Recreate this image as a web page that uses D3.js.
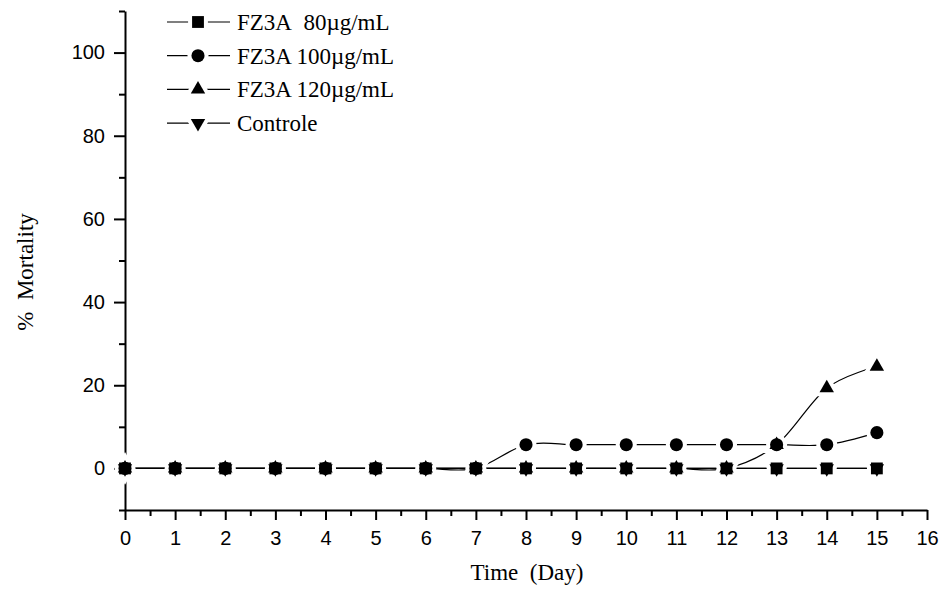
<!DOCTYPE html>
<html>
<head>
<meta charset="utf-8">
<script src="https://cdn.jsdelivr.net/npm/d3@7"></script>
<style>
	body { margin: 0; background: #fff; }
	svg { display: block; }
</style>
</head>
<body>
<svg id="plot" width="946" height="593"></svg>
<script>
// days 0..15
const DAYS = [0, 1, 2, 3, 4, 5, 6, 7, 8, 9, 10, 11, 12, 13, 14, 15];
const SERIES_NAMES = ['FZ3A\u00a0 80\u00b5g/mL', 'FZ3A 100\u00b5g/mL', 'FZ3A 120\u00b5g/mL', 'Controle'];
const FZ3A_80 = [0, 0, 0, 0, 0, 0, 0, 0, 0, 0, 0, 0, 0, 0, 0, 0];
const FZ3A_100 = [0, 0, 0, 0, 0, 0, 0, 0, 5.7, 5.7, 5.7, 5.7, 5.7, 5.7, 5.7, 8.6];
const FZ3A_120 = [0, 0, 0, 0, 0, 0, 0, 0, 0, 0, 0, 0, 0, 5.7, 19.3, 24.5];
const CONTROLE = [0, 0, 0, 0, 0, 0, 0, 0, 0, 0, 0, 0, 0, 0, 0, 0];
const X_TICKS = [0, 1, 2, 3, 4, 5, 6, 7, 8, 9, 10, 11, 12, 13, 14, 15, 16];
const Y_TICKS = [0, 20, 40, 60, 80, 100];

const SERIF = '"Liberation Serif", "Times New Roman", Times, serif';
const SANS = '"Liberation Sans", Arial, Helvetica, sans-serif';

const svg = d3.select('#plot');
const x = d3.scaleLinear().domain([0, 16]).range([125, 927]);
const y = d3.scaleLinear().domain([-10, 110]).range([510, 11]);

const allSeries = [FZ3A_80, FZ3A_100, FZ3A_120, CONTROLE];
const symbols = [
	d3.symbol().type(d3.symbolSquare).size(140),
	d3.symbol().type(d3.symbolCircle).size(135),
	d3.symbol().type(d3.symbolTriangle).size(90),
	d3.symbol().type(d3.symbolTriangle).size(90)
];
const rot = [0, 0, 0, 180];

// axes
svg.append('g')
	.attr('transform', 'translate(0,510)')
	.call(d3.axisBottom(x).tickValues(X_TICKS).tickFormat(d3.format('d')).tickSize(10).tickPadding(11).tickSizeOuter(0));
svg.append('g')
	.attr('transform', 'translate(0,510)')
	.call(d3.axisBottom(x).tickValues(d3.range(0.5, 16, 1)).tickFormat('').tickSize(6).tickSizeOuter(0))
	.select('.domain').remove();

svg.append('g')
	.attr('transform', 'translate(125,0)')
	.call(d3.axisLeft(y).tickValues(Y_TICKS).tickSize(11).tickPadding(9).tickSizeOuter(0));
svg.append('g')
	.attr('transform', 'translate(125,0)')
	.call(d3.axisLeft(y).tickValues(d3.range(-10, 111, 20)).tickFormat('').tickSize(6).tickSizeOuter(0))
	.select('.domain').remove();

svg.selectAll('.domain, .tick line').attr('stroke', '#000').attr('stroke-width', 2);
svg.selectAll('.tick text')
	.style('font-family', SANS).style('font-size', '20px').attr('fill', '#000');

// titles
svg.append('text')
	.style('font-family', SERIF).style('font-size', '23px')
	.attr('x', 527).attr('y', 580).attr('text-anchor', 'middle')
	.text('Time\u00a0 (Day)');
svg.append('text')
	.style('font-family', SERIF).style('font-size', '23px')
	.attr('transform', 'translate(33,272) rotate(-90)').attr('text-anchor', 'middle')
	.text('%\u00a0 Mortality');

// lines
const line = d3.line()
	.x((d, i) => x(DAYS[i]))
	.y(d => y(d))
	.curve(d3.curveCardinal.tension(0));

allSeries.forEach(s => {
	svg.append('path')
		.attr('d', line(s))
		.attr('fill', 'none')
		.attr('stroke', '#000')
		.attr('stroke-width', 1.2);
});

// white halo around markers so lines break near them
allSeries.forEach((s, k) => {
	svg.selectAll(null).data(s).enter().append('path')
		.attr('d', symbols[k])
		.attr('transform', (d, i) => `translate(${x(DAYS[i])},${y(d)}) rotate(${rot[k]})`)
		.attr('fill', '#fff').attr('stroke', '#fff').attr('stroke-width', 8);
});
allSeries.forEach((s, k) => {
	svg.selectAll(null).data(s).enter().append('path')
		.attr('d', symbols[k])
		.attr('transform', (d, i) => `translate(${x(DAYS[i])},${y(d)}) rotate(${rot[k]})`)
		.attr('fill', '#000');
});

// legend
const legend = svg.append('g');
SERIES_NAMES.forEach((name, k) => {
	const ly = 22 + k * 33.7;
	const g = legend.append('g').attr('transform', `translate(0,${ly})`);
	g.append('line').attr('x1', 167).attr('x2', 230).attr('y1', 0).attr('y2', 0)
		.attr('stroke', '#000').attr('stroke-width', 1.2);
	g.append('path').attr('d', symbols[k])
		.attr('transform', `translate(198,0) rotate(${rot[k]})`)
		.attr('fill', '#fff').attr('stroke', '#fff').attr('stroke-width', 8);
	g.append('path').attr('d', symbols[k])
		.attr('transform', `translate(198,0) rotate(${rot[k]})`)
		.attr('fill', '#000');
	g.append('text')
		.style('font-family', SERIF).style('font-size', '23px')
		.attr('x', 237).attr('dy', '0.35em')
		.text(name);
});
</script>
</body>
</html>
